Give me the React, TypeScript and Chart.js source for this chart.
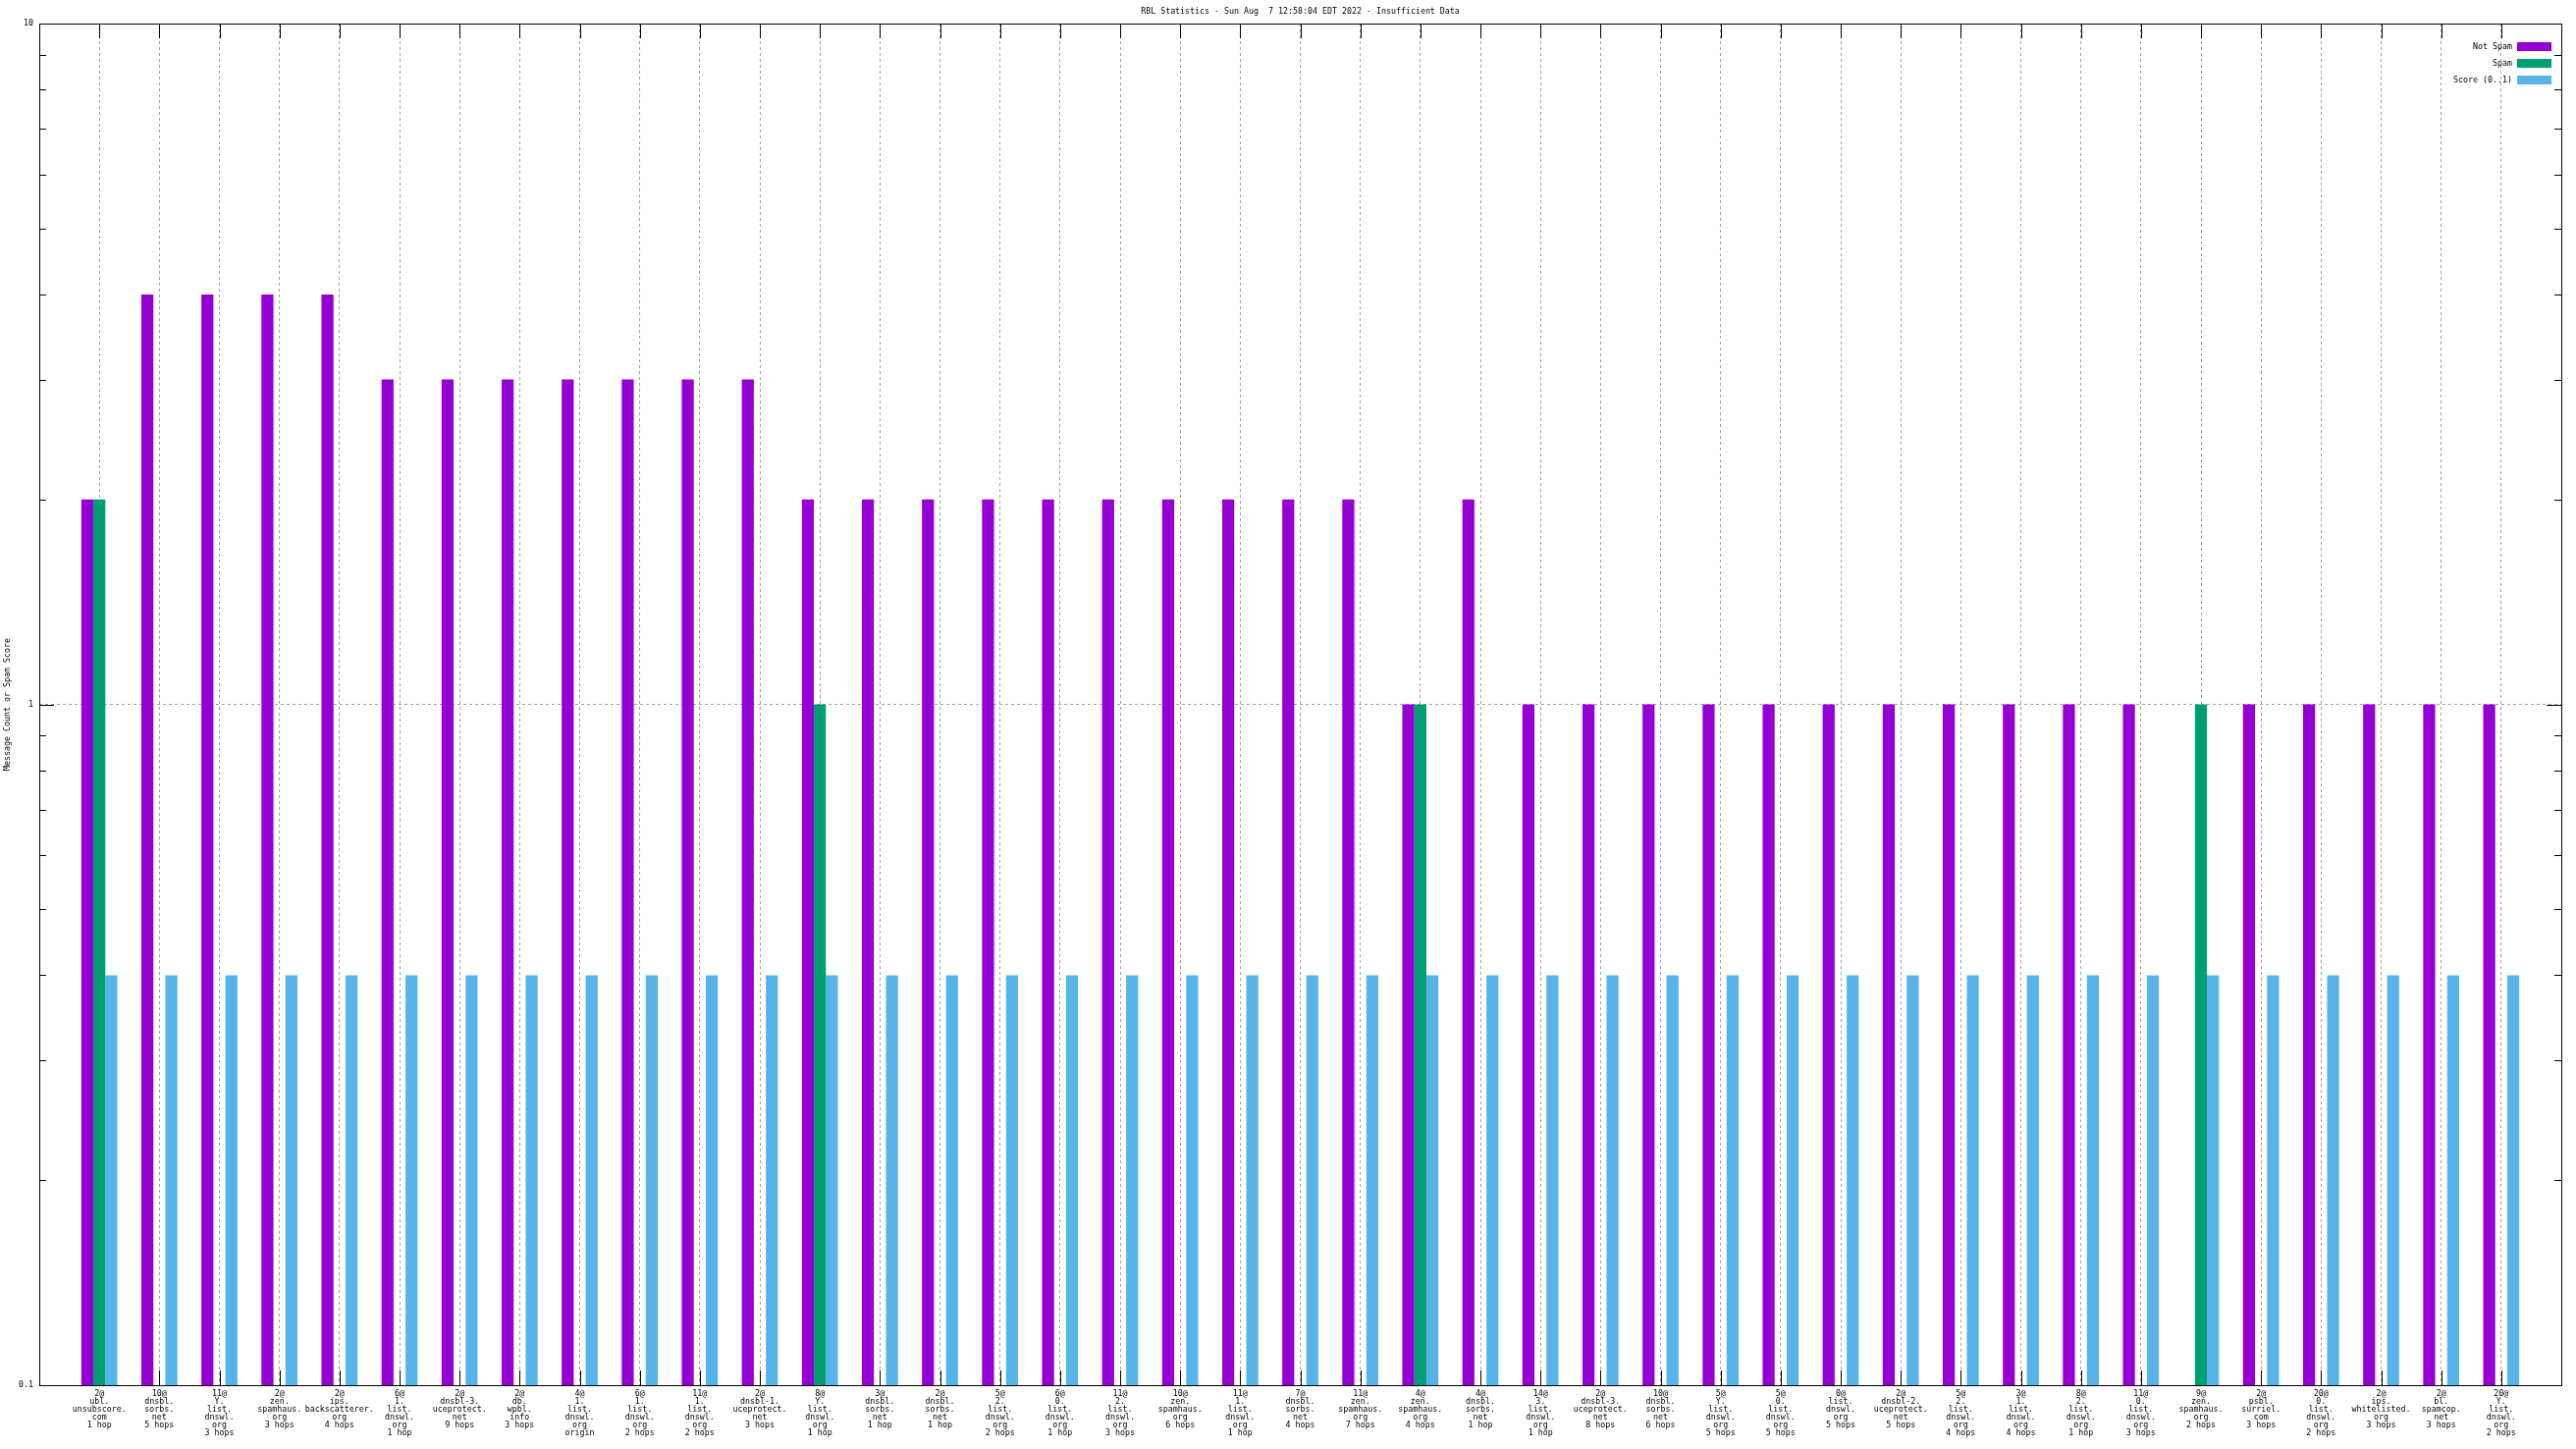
import React, { useEffect, useRef } from "react";
import { Chart, registerables } from "chart.js";

Chart.register(...registerables);

const chartTitle = "RBL Statistics - Sun Aug  7 12:58:04 EDT 2022 - Insufficient Data";
const yAxisTitle = "Message Count or Spam Score";

const categories: string[][] = [
  ["2@", "ubl.", "unsubscore.", "com", "1 hop"],
  ["10@", "dnsbl.", "sorbs.", "net", "5 hops"],
  ["11@", "Y.", "list.", "dnswl.", "org", "3 hops"],
  ["2@", "zen.", "spamhaus.", "org", "3 hops"],
  ["2@", "ips.", "backscatterer.", "org", "4 hops"],
  ["6@", "1.", "list.", "dnswl.", "org", "1 hop"],
  ["2@", "dnsbl-3.", "uceprotect.", "net", "9 hops"],
  ["2@", "db.", "wpbl.", "info", "3 hops"],
  ["4@", "1.", "list.", "dnswl.", "org", "origin"],
  ["6@", "1.", "list.", "dnswl.", "org", "2 hops"],
  ["11@", "1.", "list.", "dnswl.", "org", "2 hops"],
  ["2@", "dnsbl-1.", "uceprotect.", "net", "3 hops"],
  ["8@", "Y.", "list.", "dnswl.", "org", "1 hop"],
  ["3@", "dnsbl.", "sorbs.", "net", "1 hop"],
  ["2@", "dnsbl.", "sorbs.", "net", "1 hop"],
  ["5@", "2.", "list.", "dnswl.", "org", "2 hops"],
  ["6@", "0.", "list.", "dnswl.", "org", "1 hop"],
  ["11@", "2.", "list.", "dnswl.", "org", "3 hops"],
  ["10@", "zen.", "spamhaus.", "org", "6 hops"],
  ["11@", "1.", "list.", "dnswl.", "org", "1 hop"],
  ["7@", "dnsbl.", "sorbs.", "net", "4 hops"],
  ["11@", "zen.", "spamhaus.", "org", "7 hops"],
  ["4@", "zen.", "spamhaus.", "org", "4 hops"],
  ["4@", "dnsbl.", "sorbs.", "net", "1 hop"],
  ["14@", "3.", "list.", "dnswl.", "org", "1 hop"],
  ["2@", "dnsbl-3.", "uceprotect.", "net", "8 hops"],
  ["10@", "dnsbl.", "sorbs.", "net", "6 hops"],
  ["5@", "Y.", "list.", "dnswl.", "org", "5 hops"],
  ["5@", "0.", "list.", "dnswl.", "org", "5 hops"],
  ["0@", "list.", "dnswl.", "org", "5 hops"],
  ["2@", "dnsbl-2.", "uceprotect.", "net", "5 hops"],
  ["5@", "2.", "list.", "dnswl.", "org", "4 hops"],
  ["3@", "1.", "list.", "dnswl.", "org", "4 hops"],
  ["8@", "2.", "list.", "dnswl.", "org", "1 hop"],
  ["11@", "0.", "list.", "dnswl.", "org", "3 hops"],
  ["9@", "zen.", "spamhaus.", "org", "2 hops"],
  ["2@", "psbl.", "surriel.", "com", "3 hops"],
  ["20@", "0.", "list.", "dnswl.", "org", "2 hops"],
  ["2@", "ips.", "whitelisted.", "org", "3 hops"],
  ["2@", "bl.", "spamcop.", "net", "3 hops"],
  ["20@", "Y.", "list.", "dnswl.", "org", "2 hops"],
];

const notSpam: (number | null)[] = [
  2, 4, 4, 4, 4, 3, 3, 3, 3, 3, 3, 3, 2, 2, 2, 2, 2, 2, 2, 2, 2,
  2, 1, 2, 1, 1, 1, 1, 1, 1, 1, 1, 1, 1, 1, null, 1, 1, 1, 1, 1,
];

const spam: (number | null)[] = [
  2, null, null, null, null, null, null, null, null, null, null, null, 1, null, null, null, null, null, null, null, null,
  null, 1, null, null, null, null, null, null, null, null, null, null, null, null, 1, null, null, null, null, null,
];

const score: (number | null)[] = [
  0.4, 0.4, 0.4, 0.4, 0.4, 0.4, 0.4, 0.4, 0.4, 0.4, 0.4, 0.4, 0.4, 0.4, 0.4, 0.4, 0.4, 0.4, 0.4, 0.4, 0.4,
  0.4, 0.4, 0.4, 0.4, 0.4, 0.4, 0.4, 0.4, 0.4, 0.4, 0.4, 0.4, 0.4, 0.4, 0.4, 0.4, 0.4, 0.4, 0.4, 0.4,
];

const seriesNames = ["Not Spam", "Spam", "Score (0..1)"];
const seriesColors = ["#9400d3", "#009e73", "#56b4e9"];

const yTicks = [0.1, 1, 10];
const yTickLabels = ["0.1", "1", "10"];
const yMinorTicks = [0.2, 0.3, 0.4, 0.5, 0.6, 0.7, 0.8, 0.9, 2, 3, 4, 5, 6, 7, 8, 9];

const FONT = "DejaVu Sans Mono";
const FONT_SIZE = 8.3;
const GRID = "#a0a0a0";
const MAJOR = 15;
const MINOR = 7;

const gnuplotPlugin = {
  id: "gnuplotLook",
  beforeDatasetsDraw(chart: any) {
    const { ctx, chartArea: a, scales } = chart;
    const xs = scales.x;
    const ys = scales.y;
    ctx.save();
    ctx.strokeStyle = "#000";
    ctx.lineWidth = 1;
    ctx.beginPath();
    for (let i = 1; i <= categories.length; i++) {
      const px = Math.round(xs.getPixelForTick(i)) + 0.5;
      ctx.moveTo(px, a.top);
      ctx.lineTo(px, a.top + MAJOR);
      ctx.moveTo(px, a.bottom);
      ctx.lineTo(px, a.bottom - MAJOR);
    }
    for (const v of yTicks) {
      const py = Math.round(ys.getPixelForValue(v)) + 0.5;
      ctx.moveTo(a.left, py);
      ctx.lineTo(a.left + MAJOR, py);
      ctx.moveTo(a.right, py);
      ctx.lineTo(a.right - MAJOR, py);
    }
    for (const v of yMinorTicks) {
      const py = Math.round(ys.getPixelForValue(v)) + 0.5;
      ctx.moveTo(a.left, py);
      ctx.lineTo(a.left + MINOR, py);
      ctx.moveTo(a.right, py);
      ctx.lineTo(a.right - MINOR, py);
    }
    ctx.stroke();
    ctx.restore();
  },
  afterDatasetsDraw(chart: any) {
    const { ctx, chartArea: a } = chart;
    ctx.save();
    ctx.strokeStyle = "#000";
    ctx.lineWidth = 1;
    ctx.strokeRect(Math.round(a.left) + 0.5, Math.round(a.top) + 0.5, Math.round(a.right - a.left), Math.round(a.bottom - a.top));

    ctx.fillStyle = "#000";
    ctx.font = `${FONT_SIZE}px "${FONT}"`;
    ctx.textBaseline = "middle";
    ctx.textAlign = "center";
    ctx.fillText(chartTitle, (a.left + a.right) / 2, 12);

    ctx.save();
    ctx.translate(7.5, (a.top + a.bottom) / 2);
    ctx.rotate(-Math.PI / 2);
    ctx.fillText(yAxisTitle, 0, 0);
    ctx.restore();

    // legend
    const textRight = a.right - 50;
    const swLeft = a.right - 45;
    const swW = 35;
    const swH = 9;
    chart.data.datasets.forEach((ds: any, i: number) => {
      const cy = a.top + 23.5 + i * 17;
      ctx.textAlign = "right";
      ctx.fillStyle = "#000";
      ctx.fillText(ds.label, textRight, cy);
      ctx.fillStyle = ds.backgroundColor;
      ctx.fillRect(swLeft, Math.round(cy - swH / 2), swW, swH);
    });
    ctx.restore();
  },
};

export default function App() {
  const canvasRef = useRef<HTMLCanvasElement | null>(null);

  useEffect(() => {
    const canvas = canvasRef.current;
    if (!canvas) return;
    const pad = (arr: (number | null)[]) => [null, ...arr, null];
    const labels: (string | string[])[] = ["", ...categories, ""];
    const seriesData = [notSpam, spam, score];
    const chart = new Chart(canvas, {
      type: "bar",
      data: {
        labels,
        datasets: seriesNames.map((name, i) => ({
          label: name,
          data: pad(seriesData[i]),
          backgroundColor: seriesColors[i],
          borderWidth: 0,
          categoryPercentage: 0.6,
          barPercentage: 1.0,
        })),
      },
      options: {
        responsive: false,
        animation: false,
        devicePixelRatio: 1,
        layout: { padding: { top: 24, right: 15, left: 0, bottom: 0 } },
        plugins: {
          legend: { display: false },
          title: { display: false },
          tooltip: { enabled: false },
        },
        scales: {
          x: {
            type: "category",
            offset: false,
            grid: {
              offset: false,
              drawTicks: false,
              lineWidth: 1,
              color: (c: any) =>
                c.index === 0 || c.index === categories.length + 1 ? "rgba(0,0,0,0)" : GRID,
            },
            border: { display: false, dash: [3, 3] },
            ticks: {
              autoSkip: false,
              maxRotation: 0,
              minRotation: 0,
              padding: 5,
              color: "#000",
              font: { family: FONT, size: FONT_SIZE, lineHeight: 8 / FONT_SIZE },
            },
            afterFit: (s: any) => {
              s.height = 65;
            },
          },
          y: {
            type: "logarithmic",
            min: 0.1,
            max: 10,
            grid: {
              drawTicks: false,
              lineWidth: 1,
              color: (c: any) => (c.tick && c.tick.value === 1 ? GRID : "rgba(0,0,0,0)"),
            },
            border: { display: false, dash: [3, 3] },
            ticks: {
              padding: 6,
              color: "#000",
              font: { family: FONT, size: FONT_SIZE },
              callback: (v: any) => {
                const idx = yTicks.indexOf(Number(v));
                return idx >= 0 ? yTickLabels[idx] : "";
              },
            },
            afterBuildTicks: (s: any) => {
              s.ticks = yTicks.map((v) => ({ value: v }));
            },
            afterFit: (s: any) => {
              s.width = 40;
            },
          },
        },
      },
      plugins: [gnuplotPlugin],
    } as any);
    return () => chart.destroy();
  }, []);

  return (
    <div style={{ position: "fixed", left: 0, top: 0, width: 2624, height: 1476, background: "#fff" }}>
      <canvas ref={canvasRef} width={2624} height={1476} style={{ display: "block" }} />
    </div>
  );
}
